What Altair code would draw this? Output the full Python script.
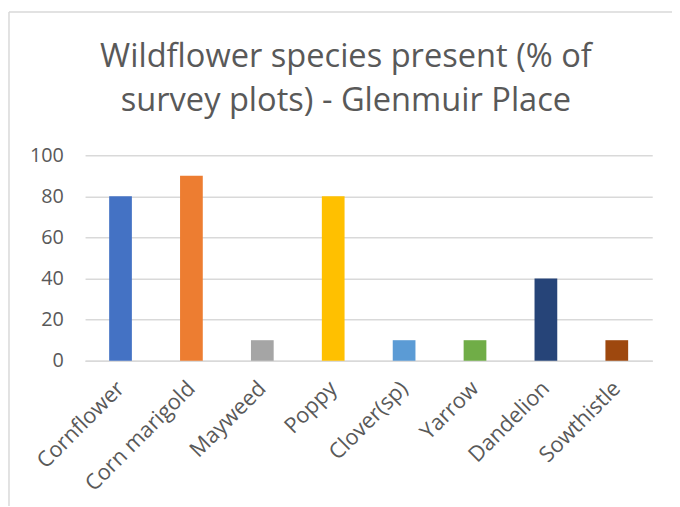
import altair as alt
import pandas as pd

species = ["Cornflower", "Corn marigold", "Mayweed", "Poppy", "Clover(sp)", "Yarrow", "Dandelion", "Sowthistle"]
values = [80, 90, 10, 80, 10, 10, 40, 10]
colors = ["#4472C4", "#ED7D31", "#A5A5A5", "#FFC000", "#5B9BD5", "#70AD47", "#264478", "#9E480E"]
title_lines = ["Wildflower species present (% of", "survey plots) - Glenmuir Place"]

df = pd.DataFrame({"species": species, "value": values})
one = pd.DataFrame({"k": [0]})

FONT = "Open Sans"
GREY = "#595959"

bars = alt.Chart(df).mark_bar(width=23).encode(
    x=alt.X("species:N", sort=species, title=None,
            scale=alt.Scale(paddingInner=0.68, paddingOuter=0.34),
            axis=alt.Axis(labelAngle=-45, labelAlign="right", labelBaseline="middle",
                          labelFontSize=22, labelFont=FONT, labelColor=GREY,
                          ticks=False, domain=True, domainColor="#d9d9d9", domainWidth=1.5,
                          labelPadding=24, grid=False)),
    y=alt.Y("value:Q", title=None,
            scale=alt.Scale(domain=[0, 100]),
            axis=alt.Axis(values=[0, 20, 40, 60, 80, 100], labelFontSize=20, labelFont=FONT,
                          labelColor=GREY, ticks=False, domain=False, labelPadding=22,
                          gridColor="#d9d9d9", gridWidth=1.5)),
    color=alt.Color("species:N", scale=alt.Scale(domain=species, range=colors), legend=None),
)

title = alt.Chart(one).mark_text(
    text=title_lines, font=FONT, fontSize=33, color=GREY, align="center",
    baseline="alphabetic", lineHeight=44
).encode(x=alt.value(264), y=alt.value(-89))

border_left = alt.Chart(one).mark_rule(color="#d9d9d9", strokeWidth=1.5).encode(
    x=alt.value(-77), y=alt.value(-145), y2=alt.value(355)
)
border_top = alt.Chart(one).mark_rule(color="#d9d9d9", strokeWidth=1.5).encode(
    x=alt.value(-77), x2=alt.value(600), y=alt.value(-145)
)

chart = alt.layer(bars, title, border_left, border_top).properties(
    width=574, height=208,
    autosize=alt.AutoSizeParams(type="none"),
    padding={"left": 78, "top": 146, "right": 20, "bottom": 145},
).configure_view(stroke=None)

chart.save("out.html", embed_options={"renderer": "svg", "actions": False})
